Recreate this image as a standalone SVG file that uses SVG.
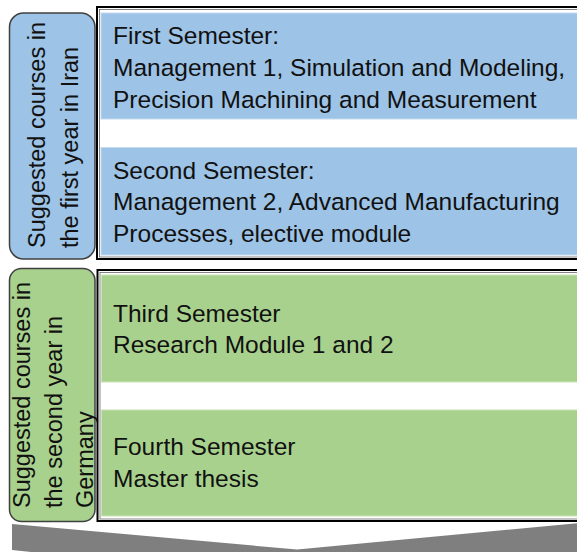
<svg xmlns="http://www.w3.org/2000/svg" width="577" height="552" viewBox="0 0 577 552">
<style>
.t{font-family:"Liberation Sans",Arial,sans-serif;font-size:24.5px;fill:#111}
.s{font-family:"Liberation Sans",Arial,sans-serif;font-size:23.5px;fill:#111}
.frame{fill:none;stroke:#000;stroke-width:2}
.inner{fill:none;stroke:#666;stroke-width:0.8}
.blue{fill:#9DC3E6;stroke:#C3DAEF;stroke-width:1}
.green{fill:#A9D18E;stroke:#C8E3B5;stroke-width:1}
.lbl{stroke:#404040;stroke-width:1.5}
</style>
<rect width="577" height="552" fill="#fff"/>
<g id="year1-frame">
<rect class="frame" x="97" y="7" width="500" height="252"/>
<rect class="inner" x="99.5" y="9.5" width="500" height="247.5"/>
</g>
<g id="year2-frame">
<rect class="frame" x="97.5" y="270" width="500" height="251"/>
<rect class="inner" x="100" y="272.5" width="500" height="246.5"/>
</g>
<g id="year1-label">
<rect class="lbl" x="9.5" y="13" width="85.5" height="246" rx="14" fill="#9DC3E6"/>
<text class="s" transform="translate(45,248) rotate(-90)">Suggested courses in</text>
<text class="s" transform="translate(78,248) rotate(-90)">the first year in Iran</text>
</g>
<g id="year2-label">
<rect class="lbl" x="9.5" y="268.5" width="85.5" height="253" rx="12" fill="#A9D18E"/>
<text class="s" transform="translate(29.5,508) rotate(-90)">Suggested courses in</text>
<text class="s" transform="translate(62,508) rotate(-90)">the second year in</text>
<text class="s" transform="translate(92.5,508) rotate(-90)">Germany</text>
</g>
<g id="sem1">
<rect class="blue" x="101" y="13" width="490" height="106"/>
<text class="t" x="113" y="43.5">First Semester:</text>
<text class="t" x="113" y="75.5">Management 1, Simulation and Modeling,</text>
<text class="t" x="113" y="107.5">Precision Machining and Measurement</text>
</g>
<g id="sem2">
<rect class="blue" x="101" y="147.5" width="490" height="107.5"/>
<text class="t" x="113" y="178.5">Second Semester:</text>
<text class="t" x="113" y="210">Management 2, Advanced Manufacturing</text>
<text class="t" x="113" y="241.5">Processes, elective module</text>
</g>
<g id="sem3">
<rect class="green" x="101.5" y="275" width="490" height="107"/>
<text class="t" x="113" y="321.5">Third Semester</text>
<text class="t" x="113" y="352.5">Research Module 1 and 2</text>
</g>
<g id="sem4">
<rect class="green" x="101.5" y="410" width="490" height="106"/>
<text class="t" x="113" y="455">Fourth Semester</text>
<text class="t" x="113" y="486.5">Master thesis</text>
</g>
<g id="connectors">
<polygon points="12,524 297,549.5 580,523 580,580 297,580 12,550" fill="#7F7F7F"/>
</g>
</svg>
